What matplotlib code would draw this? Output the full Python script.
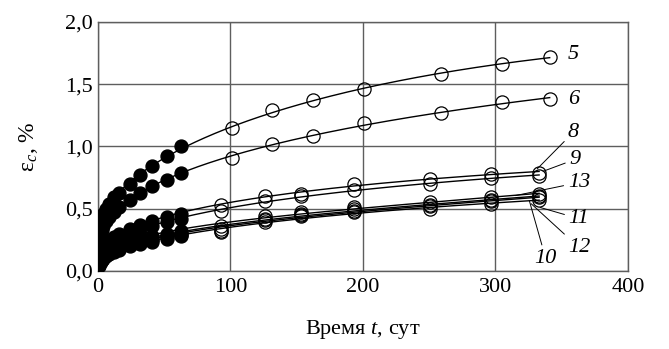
import numpy as np
import matplotlib.pyplot as plt
from matplotlib.ticker import FixedLocator

plt.rcParams['font.family'] = ['Liberation Serif', 'DejaVu Serif']
plt.rcParams['mathtext.fontset'] = 'custom'
plt.rcParams['mathtext.rm'] = 'Liberation Serif'
plt.rcParams['mathtext.it'] = 'Liberation Serif:italic'

# early readings (filled markers)
t_early = [1, 2, 3, 4, 6, 8, 12, 16, 24, 32, 41, 52, 63]
e5_early = [0.36, 0.40, 0.43, 0.46, 0.50, 0.54, 0.59, 0.63, 0.70, 0.77, 0.84, 0.92, 1.00]
e6_early = [0.26, 0.30, 0.33, 0.36, 0.40, 0.43, 0.47, 0.51, 0.57, 0.63, 0.68, 0.73, 0.79]
e8_early = [0.12, 0.15, 0.17, 0.19, 0.22, 0.24, 0.27, 0.30, 0.34, 0.37, 0.40, 0.43, 0.46]
e9_early = [0.10, 0.13, 0.15, 0.17, 0.19, 0.21, 0.24, 0.27, 0.30, 0.33, 0.36, 0.39, 0.42]
e13_early = [0.07, 0.10, 0.12, 0.13, 0.16, 0.18, 0.20, 0.22, 0.25, 0.27, 0.28, 0.30, 0.32]
e10_early = [0.06, 0.09, 0.11, 0.12, 0.14, 0.16, 0.18, 0.20, 0.23, 0.25, 0.26, 0.28, 0.30]
e12_early = [0.05, 0.08, 0.10, 0.11, 0.13, 0.15, 0.17, 0.19, 0.22, 0.24, 0.25, 0.27, 0.29]
e11_early = [0.04, 0.07, 0.09, 0.10, 0.12, 0.14, 0.15, 0.17, 0.20, 0.22, 0.23, 0.26, 0.28]

# later readings (open markers)
t_late_a = [101.5, 131, 162, 201, 259, 305, 341]
e5_late = [1.145, 1.29, 1.37, 1.46, 1.58, 1.66, 1.72]
e6_late = [0.91, 1.02, 1.08, 1.185, 1.27, 1.355, 1.38]

t_late_b = [93, 126, 153, 193, 251, 297, 333]
e8_late = [0.53, 0.605, 0.62, 0.70, 0.74, 0.78, 0.79]
e9_late = [0.48, 0.565, 0.60, 0.65, 0.70, 0.75, 0.765]
e13_late = [0.36, 0.44, 0.47, 0.51, 0.55, 0.59, 0.62]
e10_late = [0.34, 0.42, 0.455, 0.495, 0.53, 0.57, 0.60]
e12_late = [0.32, 0.41, 0.45, 0.485, 0.52, 0.56, 0.59]
e11_late = [0.31, 0.395, 0.44, 0.476, 0.50, 0.54, 0.57]

series = [
    ('5', e5_early, t_late_a, e5_late),
    ('6', e6_early, t_late_a, e6_late),
    ('8', e8_early, t_late_b, e8_late),
    ('9', e9_early, t_late_b, e9_late),
    ('13', e13_early, t_late_b, e13_late),
    ('10', e10_early, t_late_b, e10_late),
    ('12', e12_early, t_late_b, e12_late),
    ('11', e11_early, t_late_b, e11_late),
]

x_ticks = [0, 100, 200, 300, 400]
y_ticks = [0.0, 0.5, 1.0, 1.5, 2.0]
y_ticklabels = ['0,0', '0,5', '1,0', '1,5', '2,0']

fig = plt.figure(figsize=(6.69, 3.49), dpi=100)
ax = fig.add_axes([0.1465, 0.2235, 0.792, 0.714])

for name, ye, tl, yl in series:
    t_all = np.array(t_early + tl, dtype=float)
    y_all = np.array(ye + yl, dtype=float)
    # smooth trend through all readings, fitted in sqrt(t)
    p = np.polyfit(np.sqrt(t_all), y_all, 3)
    tt = np.linspace(0.5, t_all.max(), 300)
    ax.plot(tt, np.polyval(p, np.sqrt(tt)), color='black', lw=1.0, zorder=3)
    ax.plot(t_early, ye, 'o', ms=9.3, color='black', zorder=4)
    ax.plot(tl, yl, 'o', ms=9.5, mfc='none', mec='black', mew=0.9, zorder=4)

# curve numbers
lab_kw = dict(fontsize=16, style='italic', ha='center', va='center')
ax.text(359, 1.74, '5', **lab_kw)
ax.text(359, 1.38, '6', **lab_kw)
leaders = [
    ('8', (331.6, 0.82), (359, 1.115)),
    ('9', (336.0, 0.80), (360, 0.895)),
    ('13', (315.0, 0.605), (363, 0.71)),
    ('11', (333.8, 0.51), (363, 0.42)),
    ('12', (327.0, 0.54), (363, 0.19)),
    ('10', (325.6, 0.565), (338, 0.10)),
]
for name, xy, xyt in leaders:
    ax.annotate(name, xy=xy, xytext=xyt, fontsize=16, style='italic',
                ha='center', va='center',
                arrowprops=dict(arrowstyle='-', lw=0.7, color='black',
                                shrinkA=1, shrinkB=0))

ax.set_xlim(0, 400)
ax.set_ylim(0, 2.0)
ax.xaxis.set_major_locator(FixedLocator(x_ticks))
ax.yaxis.set_major_locator(FixedLocator(y_ticks))
ax.set_yticklabels(y_ticklabels)
ax.tick_params(length=0, labelsize=16)
ax.tick_params(axis='x', pad=5)
ax.tick_params(axis='y', pad=4)
ax.grid(True, color='#5e5e5e', lw=1.0, zorder=0)
ax.set_axisbelow(True)
for s in ax.spines.values():
    s.set_color('#5e5e5e')
    s.set_linewidth(1.0)

ax.set_xlabel('Время $t$, сут', fontsize=16, labelpad=15)
ax.set_ylabel('ε$_c$, %', fontsize=17, labelpad=18)

fig.savefig('out.png', dpi=100)
